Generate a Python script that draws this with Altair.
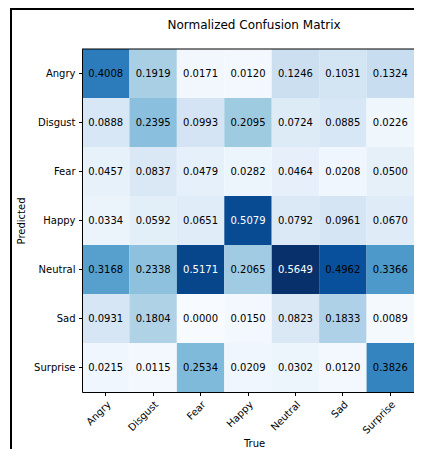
import altair as alt
import pandas as pd

labels = ["Angry", "Disgust", "Fear", "Happy", "Neutral", "Sad", "Surprise"]
# rows = Predicted, columns = True
row_angry = [0.4008, 0.1919, 0.0171, 0.0120, 0.1246, 0.1031, 0.1324]
row_disgust = [0.0888, 0.2395, 0.0993, 0.2095, 0.0724, 0.0885, 0.0226]
row_fear = [0.0457, 0.0837, 0.0479, 0.0282, 0.0464, 0.0208, 0.0500]
row_happy = [0.0334, 0.0592, 0.0651, 0.5079, 0.0792, 0.0961, 0.0670]
row_neutral = [0.3168, 0.2338, 0.5171, 0.2065, 0.5649, 0.4962, 0.3366]
row_sad = [0.0931, 0.1804, 0.0000, 0.0150, 0.0823, 0.1833, 0.0089]
row_surprise = [0.0215, 0.0115, 0.2534, 0.0209, 0.0302, 0.0120, 0.3826]
matrix = [row_angry, row_disgust, row_fear, row_happy, row_neutral, row_sad, row_surprise]
title_text = "Normalized Confusion Matrix"

records = []
for i, pred in enumerate(labels):
    for j, true in enumerate(labels):
        records.append({"Predicted": pred, "True": true, "value": matrix[i][j]})
df = pd.DataFrame(records)

vmax = max(max(r) for r in matrix)
blues = ["#f7fbff", "#deebf7", "#c6dbef", "#9ecae1", "#6baed6",
         "#4292c6", "#2171b5", "#08519c", "#08306b"]
domain = [vmax * k / 8 for k in range(9)]

W, H = 332, 343
FONT = "DejaVu Sans"

base = alt.Chart(df)

heat = base.mark_rect().encode(
    x=alt.X("True:N", sort=labels, title="True",
            scale=alt.Scale(paddingInner=0, paddingOuter=0),
            axis=alt.Axis(labelAngle=-45, labelAlign="right", labelBaseline="top",
                          titleX=W / 2 + 6, titleY=51, titleBaseline="middle",
                          titleAlign="center")),
    y=alt.Y("Predicted:N", sort=labels, title="Predicted",
            scale=alt.Scale(paddingInner=0, paddingOuter=0),
            axis=alt.Axis(titleX=-61, titleY=H / 2, titleAngle=-90,
                          titleBaseline="middle", titleAlign="center")),
    color=alt.Color("value:Q", legend=None,
                    scale=alt.Scale(domain=domain, range=blues, interpolate="rgb")),
)

text = base.mark_text(font=FONT, fontSize=10).encode(
    x=alt.X("True:N", sort=labels),
    y=alt.Y("Predicted:N", sort=labels),
    text=alt.Text("value:Q", format=".4f"),
    color=alt.condition("datum.value > 0.5", alt.value("white"), alt.value("black")),
)

frame_df = pd.DataFrame({"a": [0]})
top_line = alt.Chart(frame_df).mark_rule(color="black", strokeWidth=2).encode(
    x=alt.value(-71), x2=alt.value(W + 20), y=alt.value(-40))
left_line = alt.Chart(frame_df).mark_rule(color="black", strokeWidth=2).encode(
    x=alt.value(-71), y=alt.value(-41), y2=alt.value(H + 80))
top_spine = alt.Chart(frame_df).mark_rule(color="black", strokeWidth=1).encode(
    x=alt.value(0), x2=alt.value(W + 20), y=alt.value(0))
title = alt.Chart(pd.DataFrame({"t": [title_text]})).mark_text(
    font=FONT, fontSize=12, color="black", baseline="middle", align="center"
).encode(x=alt.value(W / 2 + 6), y=alt.value(-24), text="t:N")

chart = alt.layer(heat, text, top_spine, top_line, left_line, title).properties(
    width=W, height=H,
    autosize=alt.AutoSizeParams(type="none"),
    padding={"left": 74, "top": 41, "right": 0, "bottom": 57},
).configure_view(strokeWidth=0).configure_axis(
    labelFont=FONT, labelFontSize=10, labelColor="black",
    titleFont=FONT, titleFontSize=10, titleColor="black", titleFontWeight="normal",
    tickColor="black", tickSize=3.5, domainColor="black", labelPadding=3.5,
    grid=False,
)

chart.save("out.html", embed_options={"renderer": "svg", "actions": False})
